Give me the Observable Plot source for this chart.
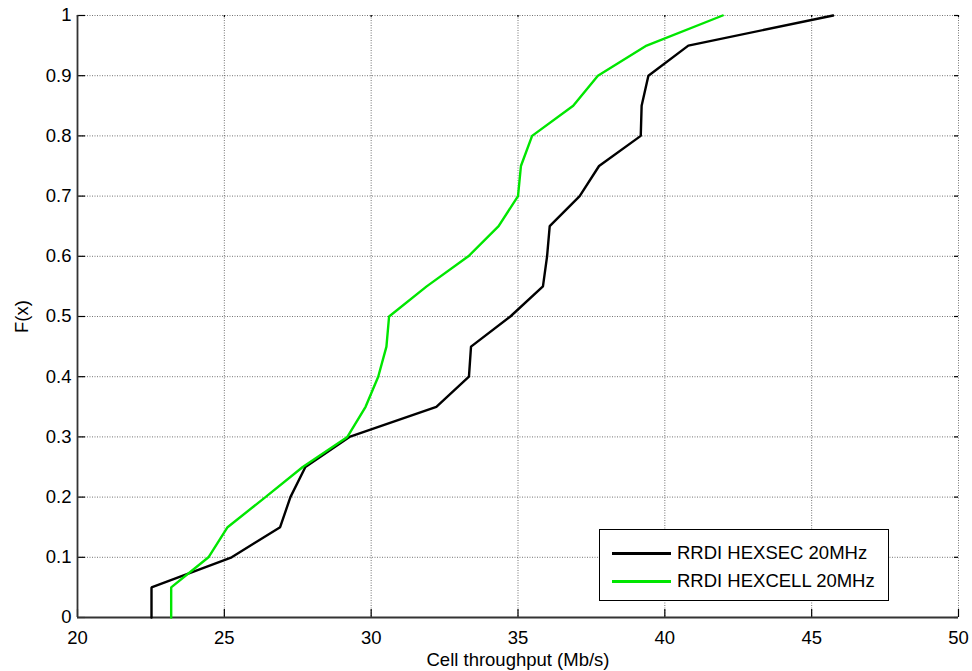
<!DOCTYPE html>
<html>
<head>
<meta charset="utf-8">
<script src="https://cdn.jsdelivr.net/npm/d3@7"></script>
<script src="https://cdn.jsdelivr.net/npm/@observablehq/plot@0.6"></script>
<style>
  html, body { margin: 0; padding: 0; background: #fff; }
  #wrap { position: relative; width: 972px; height: 671px; font-family: "Liberation Sans", Arial, sans-serif; }
  #legend { position: absolute; left: 599px; top: 529px; width: 288px; height: 70px; border: 1.5px solid #000; background: #fff; box-sizing: content-box; font-size: 18.5px; color: #000; }
  .row { position: absolute; left: 0; height: 24px; display: flex; align-items: center; }
  .sw { width: 59px; height: 0; border-top-width: 3px; border-top-style: solid; margin-left: 12px; margin-right: 6px; }
</style>
</head>
<body>
<div id="wrap"></div>
<script>
// ---- data ----
const seriesNames = ["RRDI HEXSEC 20MHz", "RRDI HEXCELL 20MHz"];
const seriesColors = ["#000000", "#00e600"];
const cdfLevels = [0, 0.05, 0.1, 0.15, 0.2, 0.25, 0.3, 0.35, 0.4, 0.45, 0.5, 0.55, 0.6, 0.65, 0.7, 0.75, 0.8, 0.85, 0.9, 0.95, 1];
const hexsec = [22.52, 22.52, 25.25, 26.90, 27.25, 27.76, 29.26, 32.22, 33.33, 33.40, 34.74, 35.85, 35.99, 36.08, 37.10, 37.76, 39.18, 39.21, 39.44, 40.80, 45.73];
const hexcell = [23.19, 23.19, 24.46, 25.11, 26.40, 27.67, 29.19, 29.81, 30.24, 30.52, 30.61, 31.89, 33.31, 34.34, 35.00, 35.10, 35.48, 36.88, 37.72, 39.38, 41.97];
const xTicks = [20, 25, 30, 35, 40, 45, 50];
const yTicks = [0, 0.1, 0.2, 0.3, 0.4, 0.5, 0.6, 0.7, 0.8, 0.9, 1];
const xLabel = "Cell throughput (Mb/s)";
const yLabel = "F(x)";

const rows = [];
[hexsec, hexcell].forEach((vals, s) => {
  vals.forEach((v, i) => rows.push({series: seriesNames[s], x: v, F: cdfLevels[i]}));
});

const W = 972, H = 671;
const mL = 77, mR = 14, mT = 15, mB = 54;
const innerW = W - mL - mR, innerH = H - mT - mB;
const gridStyle = {stroke: "#000", strokeOpacity: 0.55, strokeDasharray: "1,1.5", strokeWidth: 1};

const chart = Plot.plot({
  width: W, height: H,
  marginLeft: mL, marginRight: mR, marginTop: mT, marginBottom: mB,
  style: {fontFamily: "'Liberation Sans', Arial, sans-serif", fontSize: "18.5px", background: "#fff", color: "#000"},
  x: {domain: [20, 50]},
  y: {domain: [0, 1]},
  color: {domain: seriesNames, range: seriesColors},
  marks: [
    Plot.gridX(xTicks, gridStyle),
    Plot.gridY(yTicks, gridStyle),
    Plot.axisX(xTicks, {tickSize: 0, tickPadding: 13, fontSize: 18.5, label: xLabel, labelAnchor: "center", labelArrow: "none", labelOffset: 48}),
    Plot.axisY(yTicks, {tickSize: 0, tickPadding: 6, fontSize: 18.5, tickFormat: d => String(d), label: yLabel, labelAnchor: "center", labelArrow: "none", labelOffset: 63}),
    // inward tick marks
    Plot.tickX(xTicks, {x: d => d, insetTop: innerH - 8, stroke: "#000", strokeWidth: 1.2}),
    Plot.tickX(xTicks, {x: d => d, insetBottom: innerH - 2, stroke: "#000", strokeWidth: 1.2}),
    Plot.tickY(yTicks, {y: d => d, insetRight: innerW - 8, stroke: "#000", strokeWidth: 1.2}),
    Plot.tickY(yTicks, {y: d => d, insetLeft: innerW - 4, stroke: "#000", strokeWidth: 1.2}),
    Plot.ruleX([20], {stroke: "#333", strokeWidth: 1.8}),
    Plot.ruleY([0], {stroke: "#333", strokeWidth: 1.8}),
    Plot.line(rows, {x: "x", y: "F", z: "series", stroke: "series", strokeWidth: 2.4, strokeLinejoin: "miter"})
  ]
});

const wrap = document.getElementById("wrap");
wrap.appendChild(chart);

// legend
const leg = document.createElement("div");
leg.id = "legend";
seriesNames.forEach((name, i) => {
  const r = document.createElement("div");
  r.className = "row";
  r.style.top = (i === 0 ? 11 : 39) + "px";
  const sw = document.createElement("span");
  sw.className = "sw";
  sw.style.borderTopColor = seriesColors[i];
  const t = document.createElement("span");
  t.textContent = name;
  r.appendChild(sw); r.appendChild(t);
  leg.appendChild(r);
});
wrap.appendChild(leg);
</script>
</body>
</html>
